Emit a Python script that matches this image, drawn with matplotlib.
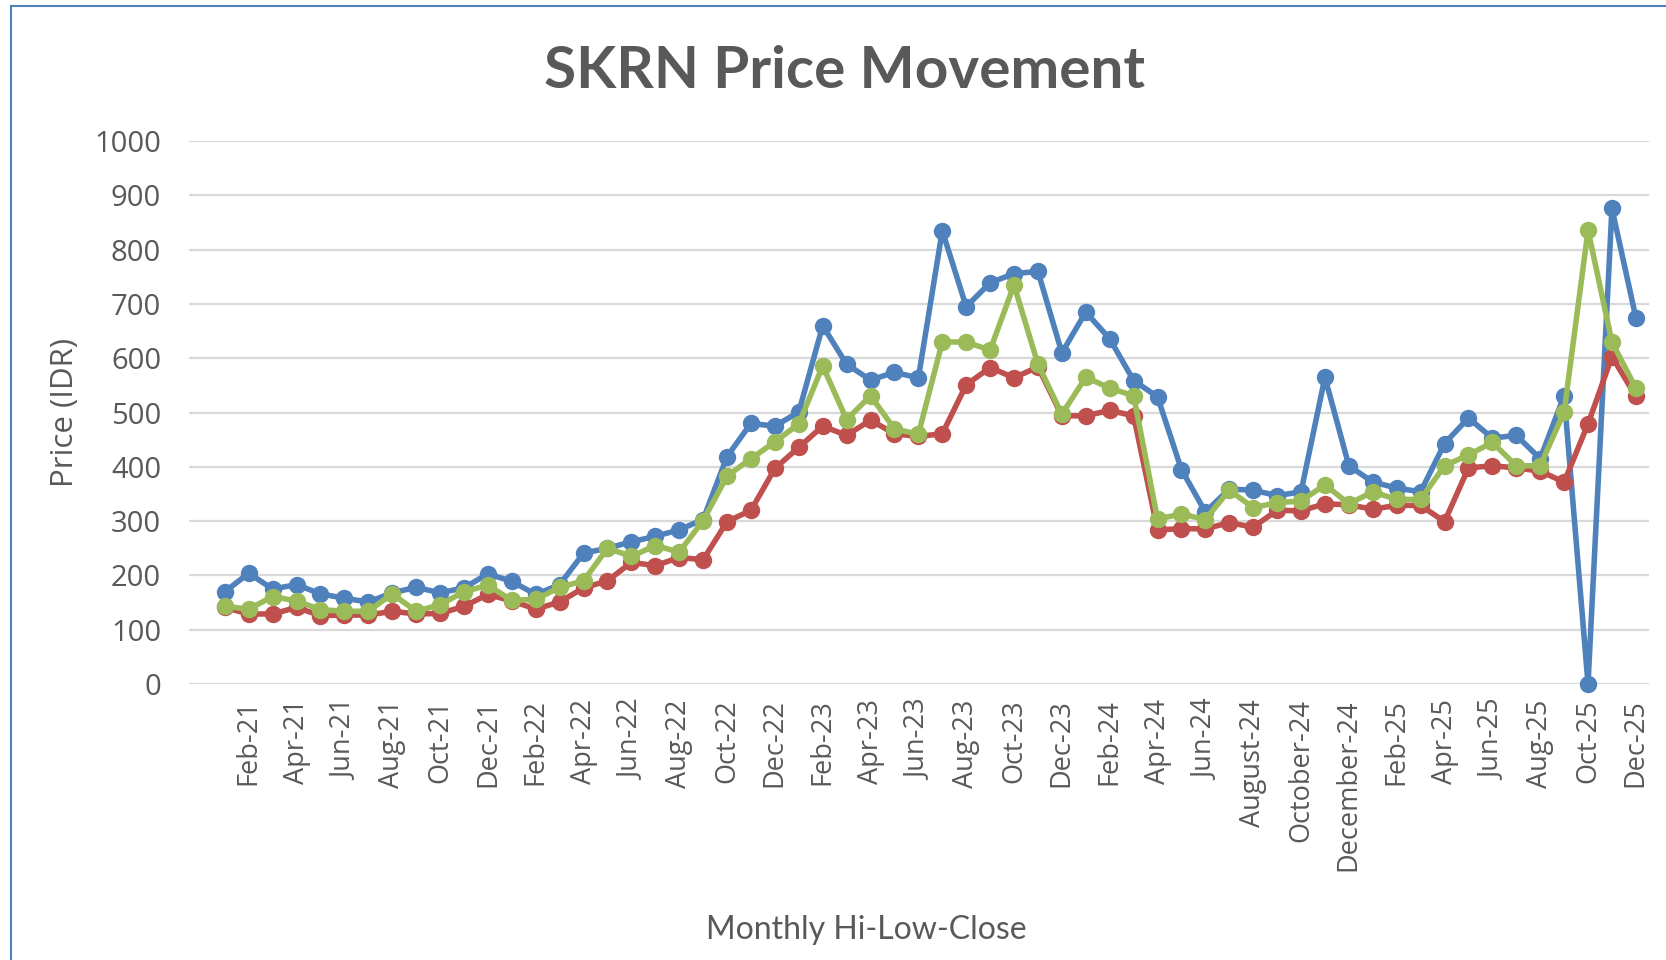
import numpy as np
import matplotlib
matplotlib.use("Agg")
import matplotlib.pyplot as plt
from matplotlib.lines import Line2D

# monthly values, Jan-21 .. Dec-25
hi = [170, 204, 175, 183, 166, 158, 151, 168, 178, 168, 177, 203,
      189, 165, 183, 241, 250, 262, 272, 284, 303, 419, 480, 475,
      501, 660, 589, 560, 574, 564, 835, 695, 739, 756, 760, 610,
      685, 636, 559, 529, 395, 317, 359, 357, 347, 354, 565, 402,
      372, 361, 354, 443, 490, 453, 458, 415, 531, 0, 876, 675]
low = [141, 129, 129, 141, 126, 127, 127, 134, 129, 130, 143, 165,
       153, 138, 151, 177, 190, 224, 218, 233, 229, 299, 320, 397,
       436, 475, 458, 486, 461, 456, 461, 551, 583, 564, 584, 494,
       494, 504, 494, 284, 286, 286, 297, 289, 320, 319, 332, 330,
       322, 329, 329, 299, 398, 402, 398, 392, 372, 479, 603, 530]
close = [143, 138, 161, 153, 137, 134, 134, 166, 134, 146, 170, 182,
         154, 156, 178, 190, 250, 235, 255, 243, 301, 383, 415, 446,
         479, 586, 487, 531, 470, 460, 630, 630, 615, 735, 589, 497,
         565, 545, 531, 304, 313, 303, 357, 325, 334, 337, 367, 332,
         354, 340, 340, 402, 422, 445, 402, 402, 501, 836, 630, 545]
tick_labels = ["Feb-21", "Apr-21", "Jun-21", "Aug-21", "Oct-21", "Dec-21",
               "Feb-22", "Apr-22", "Jun-22", "Aug-22", "Oct-22", "Dec-22",
               "Feb-23", "Apr-23", "Jun-23", "Aug-23", "Oct-23", "Dec-23",
               "Feb-24", "Apr-24", "Jun-24", "August-24", "October-24",
               "December-24", "Feb-25", "Apr-25", "Jun-25", "Aug-25",
               "Oct-25", "Dec-25"]
yticks = [0, 100, 200, 300, 400, 500, 600, 700, 800, 900, 1000]

gray = "#595959"
fig = plt.figure(figsize=(16.66, 9.6), dpi=100)
ax = fig.add_axes([0.1134, 0.2875, 0.8764, 0.5655])

x = np.arange(len(hi))
for vals, col in [(hi, "#4F81BD"), (low, "#C0504D"), (close, "#9BBB59")]:
    ax.plot(x, vals, color=col, lw=4, marker="o", ms=11.5, clip_on=False,
            solid_joinstyle="round")

ax.set_xlim(-1.5, 59.55)
ax.set_ylim(0, 1000)
ax.set_yticks(yticks)
ax.set_yticklabels([str(v) for v in yticks], fontsize=21, color=gray,
                   family="Open Sans")
ax.set_xticks(x[1::2])
ax.set_xticklabels(tick_labels, rotation=90, fontsize=19.5, color=gray,
                   family="Open Sans")
ax.tick_params(length=0, axis="y", pad=20)
ax.tick_params(length=0, axis="x", pad=11)
ax.grid(axis="y", color="#D9D9D9", lw=1.6)
ax.set_axisbelow(True)
for s in ax.spines.values():
    s.set_visible(False)

ax.set_ylabel("Price (IDR)", fontsize=22.5, color=gray, family="Open Sans")
ax.yaxis.set_label_coords(-0.0747, 0.5)
fig.text(0.52, 0.031, "Monthly Hi-Low-Close", ha="center", va="center",
         fontsize=23, color=gray, family="Lato")
fig.text(0.507, 0.925, "SKRN Price Movement", ha="center", va="center",
         fontsize=42, fontweight="bold", color=gray, family="Lato")

# chart border (top and left edges visible)
fig.add_artist(Line2D([0.0066, 1.0], [0.9935, 0.9935], color="#4F81BD", lw=1.5))
fig.add_artist(Line2D([0.0066, 0.0066], [0.0, 0.9935], color="#4F81BD", lw=1.5))

fig.savefig("out.png", dpi=100)
